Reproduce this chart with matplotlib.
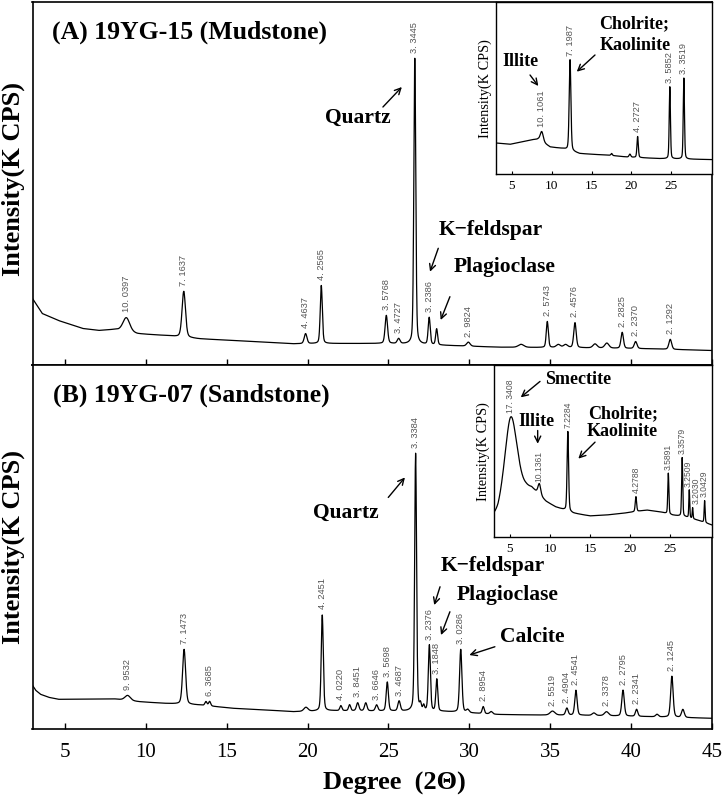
#!/usr/bin/env python3

import matplotlib
matplotlib.use("Agg")
import matplotlib.pyplot as plt
import numpy as np

# ---------------- (A) 19YG-15 mudstone, bulk pattern ----------------
a_bg_x = [3.0, 3.6, 4.6, 6.1, 7.1, 8.1, 9.5, 11.2, 13.3, 15.4, 17.5, 19.1,
          21.0, 25.0, 28.7, 31.8, 37.0, 41.2, 45.0]
a_bg_y = [67, 52, 45, 37, 35, 36, 31.7, 30, 26.7, 25, 23.3, 21.7,
          22, 22, 20, 18.3, 17.7, 16.7, 15]
a_pos = [8.80, 12.35, 19.88, 20.85, 24.87, 25.63, 26.63, 27.52, 27.98, 29.94,
         33.2, 34.82, 35.5, 35.95, 36.53, 37.77, 38.5, 39.45, 40.28, 42.42]
a_amp = [14, 46, 10, 58, 28, 5, 286, 27, 16, 4,
         3, 26, 3, 3, 25, 4, 5, 16, 7, 10]
a_fwhm = [0.5, 0.25, 0.2, 0.15, 0.18, 0.2, 0.14, 0.15, 0.14, 0.25,
          0.4, 0.15, 0.3, 0.3, 0.18, 0.3, 0.3, 0.18, 0.2, 0.2]
a_lbl = ["10. 0397", "7. 1637", "4. 4637", "4. 2565", "3. 5768", "3. 4727",
         "3. 3445", "3. 2386", "", "2. 9824", "", "2. 5743", "", "",
         "2. 4576", "", "", "2. 2825", "2. 2370", "2. 1292"]

# ---------------- (B) 19YG-07 sandstone, bulk pattern ----------------
b_bg_x = [3.0, 3.2, 3.5, 4.0, 4.6, 8.0, 9.6, 11.1, 13.3, 15.4, 17.5, 19.1,
          21.6, 26.0, 28.5, 31.8, 34.0, 37.0, 41.0, 45.0]
b_bg_y = [44, 39, 35, 32, 30, 30.5, 27.6, 26, 24.3, 21, 19.3, 17.6,
          18.6, 18, 17.7, 14.8, 14.3, 14, 12.7, 11]
b_pos = [8.88, 12.37, 13.72, 13.95, 19.9, 20.91, 22.06, 22.6, 23.1, 23.6,
         24.27, 24.93, 25.66, 26.68, 26.98, 27.18, 27.53, 27.99, 29.47, 29.9,
         30.86, 31.35, 35.14, 36.03, 36.59, 37.7, 38.48, 39.50, 40.34, 41.6,
         42.52, 43.2]
b_amp = [5, 55, 4, 4.5, 4, 96, 5, 6, 8, 8,
         6, 29, 10, 258, 6, 5, 66, 32, 63, 3,
         7, 2.5, 4, 7, 25, 2.5, 4, 26, 7, 2.5,
         41, 8]
b_fwhm = [0.4, 0.22, 0.15, 0.15, 0.3, 0.15, 0.15, 0.15, 0.18, 0.18,
          0.18, 0.16, 0.18, 0.14, 0.12, 0.12, 0.15, 0.14, 0.17, 0.2,
          0.15, 0.2, 0.35, 0.18, 0.17, 0.25, 0.3, 0.18, 0.17, 0.2,
          0.18, 0.2]
b_lbl = ["9. 9532", "7. 1473", "", "6. 3685", "", "4. 2451", "4. 0220", "",
         "3. 8451", "", "3. 6646", "3. 5698", "3. 4687", "3. 3384", "", "",
         "3. 2376", "3. 1848", "3. 0286", "", "2. 8954", "", "2. 5519",
         "2. 4904", "2. 4541", "", "2. 3378", "2. 2795", "2. 2341", "",
         "2. 1245", ""]

# ---------------- inset A: clay fraction of 19YG-15 ----------------
ia_bg_x = [3.0, 4.76, 7.7, 8.3, 9.8, 11.4, 13.5, 17.3, 19.4, 23.5, 30.1]
ia_bg_y = [31.3, 30, 34.7, 35, 27.3, 25.7, 20.7, 19, 17.3, 15.7, 14.7]
ia_pos = [8.74, 12.29, 17.5, 19.8, 20.77, 24.81, 26.57]
ia_amp = [10, 91, 2, 3, 21, 72, 81]
ia_fwhm = [0.45, 0.25, 0.2, 0.25, 0.2, 0.18, 0.18]
ia_lbl = ["10. 1061", "7. 1987", "", "", "4. 2727", "3. 5852", "3. 3519"]

# ---------------- inset B: clay fraction of 19YG-07 ----------------
ib_bg_x = [3.0, 3.5, 4.0, 5.0, 6.0, 7.0, 7.7, 8.3, 9.5, 10.7, 11.75, 12.9,
           15.0, 17.1, 19.1, 22.1, 23.75, 25.3, 26.9, 28.4, 30.25]
ib_bg_y = [20, 22, 28, 38, 45, 48, 48, 44, 35, 29.7, 27, 23.7,
           21, 22, 23.7, 27, 25.3, 22, 20.3, 17, 12]
ib_pos = [5.1, 8.67, 12.23, 20.74, 24.79, 26.52, 27.41, 27.83, 29.33]
ib_amp = [82, 11, 80, 15, 41, 59, 28, 11, 22]
ib_fwhm = [1.77, 0.4, 0.22, 0.2, 0.16, 0.16, 0.13, 0.12, 0.14]
ib_lbl = ["17. 3408", "10.1361", "7.2284", "4.2788", "3.5891", "3.3579",
          "3.2509", "3.2030", "3.0429"]

SERIF = "Liberation Serif"
SANS = ["Liberation Sans Narrow", "Liberation Sans", "DejaVu Sans"]
W, H = 726, 799


def profile(x, x0, amp, w, eta=0.3):
    d = (x - x0) / w
    lor = 1.0 / (1.0 + 4.0 * d * d)
    gau = np.exp(-4.0 * np.log(2) * d * d)
    return amp * (eta * lor + (1 - eta) * gau)


def pattern(x, bg_x, bg_y, pos, amp, fwhm):
    y = np.interp(x, bg_x, bg_y)
    for p, a, w in zip(pos, amp, fwhm):
        y = y + profile(x, p, a, w)
    return y


def draw(ax, xlim, bg_x, bg_y, pos, amp, fwhm, lbl, lw, off, size=6.7, nudge=None):
    nudge = nudge or {}
    x = np.arange(xlim[0], xlim[1] + 0.005, 0.01)
    ax.plot(x, pattern(x, bg_x, bg_y, pos, amp, fwhm), color="black", lw=lw)
    for p, a, t in zip(pos, amp, lbl):
        if not t:
            continue
        top = np.interp(p, bg_x, bg_y) + a
        ax.annotate(t, (p, top), xytext=(nudge.get(t, 0), off),
                    textcoords="offset points", rotation=90, ha="center",
                    va="bottom", fontsize=size, family=SANS, color="#555555")


def mineral(ax, text, xy, size, tail=None, head=None, ha="center"):
    ax.text(xy[0], xy[1], text, ha=ha, va="center", fontsize=size,
            family=SERIF, fontweight="bold")
    if tail is not None:
        ax.annotate("", xy=head, xytext=tail,
                    arrowprops=dict(arrowstyle="->", lw=1.0, color="black",
                                    shrinkA=0, shrinkB=0, mutation_scale=11))


def frac(px, py):
    return px / W, 1 - py / H


fig = plt.figure(figsize=(W / 100, H / 100), dpi=100)

l0, _ = frac(32.5, 0)
r0, _ = frac(712, 0)
_, top_a = frac(0, 2)
_, bot_a = frac(0, 365.5)
_, bot_b = frac(0, 729.3)

ax_a = fig.add_axes([l0, bot_a, r0 - l0, top_a - bot_a])
ax_b = fig.add_axes([l0, bot_b, r0 - l0, bot_a - bot_b])

for ax in (ax_a, ax_b):
    ax.set_xlim(3, 45)
    ax.set_xticks([5, 10, 15, 20, 25, 30, 35, 40, 45])
    ax.tick_params(axis="x", direction="in", length=4.5, width=1.0, pad=10,
                   labelsize=15)
    ax.tick_params(axis="y", left=False, labelleft=False)
    for s in ax.spines.values():
        s.set_linewidth(1.2)
    for t in ax.get_xticklabels():
        t.set_family(SERIF)
ax_a.tick_params(axis="x", labelbottom=False)
ax_a.set_ylim(0, 363.5)
ax_b.set_ylim(0, 364)

draw(ax_a, (3, 45), a_bg_x, a_bg_y, a_pos, a_amp, a_fwhm, a_lbl, 0.9, 4)
draw(ax_b, (3, 45), b_bg_x, b_bg_y, b_pos, b_amp, b_fwhm, b_lbl, 0.9, 4,
     nudge={"3. 3384": 0, "3. 8451": 0})

ax_a.text(4.19, 333.2, "(A) 19YG-15 (Mudstone)", ha="left", va="center",
          fontsize=18.5, family=SERIF, fontweight="bold")
ax_b.text(4.29, 334.3, "(B) 19YG-07 (Sandstone)", ha="left", va="center",
          fontsize=18.5, family=SERIF, fontweight="bold")

mineral(ax_a, "Quartz", (23.12, 247.5), 15.5, (24.66, 258.5), (25.83, 278.5))
mineral(ax_a, "K\u2212feldspar", (31.33, 135.5), 15.5, (28.08, 117.2), (27.57, 93.8))
mineral(ax_a, "Plagioclase", (32.2, 98.8), 15.5, (28.80, 68.8), (28.23, 45.5))

mineral(ax_b, "Quartz", (22.36, 216.6), 15.5, (24.99, 232), (26.02, 252))
mineral(ax_b, "K\u2212feldspar", (31.43, 163.6), 15.5, (28.19, 142.6), (27.83, 124.3))
mineral(ax_b, "Plagioclase", (32.34, 134.3), 15.5, (28.80, 117.6), (28.25, 94.3))
mineral(ax_b, "Calcite", (33.9, 92), 15.5, (31.58, 82.6), (30.0, 74.3))

# insets
li_a, _ = frac(496, 0)
_, ib_a = frac(0, 174.3)
ins_a = fig.add_axes([li_a, ib_a, r0 - li_a, top_a - ib_a])
li_b, _ = frac(494, 0)
_, ib_b = frac(0, 537)
ins_b = fig.add_axes([li_b, ib_b, r0 - li_b, bot_a - ib_b])

for ins, xmax in ((ins_a, 30.1), (ins_b, 30.25)):
    ins.set_facecolor("white")
    ins.set_xlim(3, xmax)
    ins.set_ylim(0, 172.3)
    ins.set_xticks([5, 10, 15, 20, 25])
    ins.tick_params(axis="x", direction="in", length=2.5, width=0.8, pad=4,
                    labelsize=9.6)
    ins.tick_params(axis="y", left=False, labelleft=False)
    for s in ins.spines.values():
        s.set_linewidth(1.0)
    for t in ins.get_xticklabels():
        t.set_family(SERIF)
    ins.set_ylabel("Intensity(K CPS)", family=SERIF, fontsize=10.3, labelpad=3)

draw(ins_a, (3, 30.1), ia_bg_x, ia_bg_y, ia_pos, ia_amp, ia_fwhm, ia_lbl, 0.9, 3)
draw(ins_b, (3, 30.25), ib_bg_x, ib_bg_y, ib_pos, ib_amp, ib_fwhm, ib_lbl, 0.9, 2.5,
     size=6.2, nudge={"3.2509": -1.0, "3.2030": 2.5})

mineral(ins_a, "Illite", (6.12, 112.6), 13, (7.27, 99.3), (8.31, 88.3))
mineral(ins_a, "Cholrite;", (16.0, 151), 13, ha="left")
mineral(ins_a, "Kaolinite", (16.0, 128.6), 13, (15.42, 119.3), (13.13, 102.6), ha="left")

mineral(ins_b, "Smectite", (9.38, 158.7), 13, (8.75, 156.3), (6.34, 140.3), ha="left")
mineral(ins_b, "Illite", (8.33, 116.3), 13, (8.46, 107), (8.46, 93.7))
mineral(ins_b, "Cholrite;", (14.79, 124.3), 13, ha="left")
mineral(ins_b, "Kaolinite", (14.59, 106.3), 13, (15.63, 95.3), (13.54, 78.7), ha="left")

# axis titles
for cy in (178.5, 547.5):
    px, py = frac(13.3, cy)
    fig.text(px, py, "Intensity(K CPS)", rotation=90, ha="center", va="center",
             fontsize=19, family=SERIF, fontweight="bold")
px, py = frac(394, 783)
fig.text(px, py, "Degree  (2\u0398)", ha="center", va="center", fontsize=19,
         family=SERIF, fontweight="bold")

plt.savefig("out.png", dpi=100)
plt.close()
